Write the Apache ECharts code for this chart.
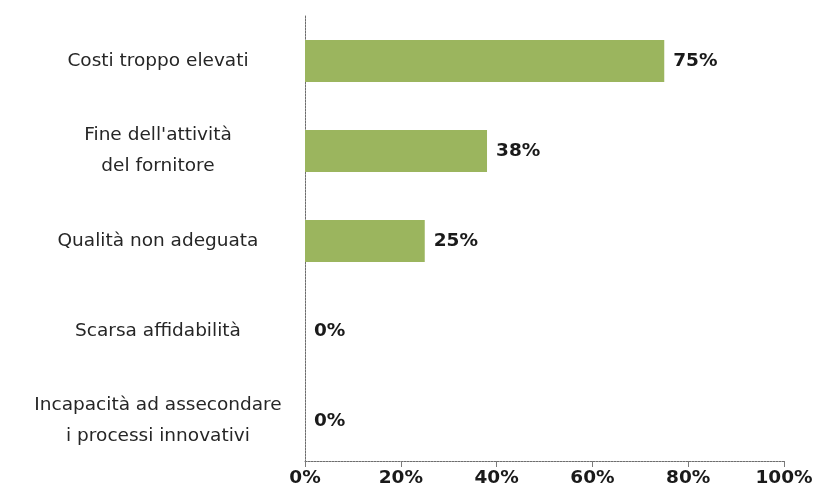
<!DOCTYPE html>
<html>
<head>
<meta charset="utf-8">
<script src="https://cdn.jsdelivr.net/npm/echarts@6/dist/echarts.min.js"></script>
<style>
  html, body { margin: 0; padding: 0; background: #ffffff; }
  #chart { width: 829px; height: 495px; }
</style>
</head>
<body>
<div id="chart"></div>
<script>
// Reasons for changing supplier (share of respondents, %)
const categories = [
  'Costi troppo elevati',
  "Fine dell'attività\ndel fornitore",
  'Qualità non adeguata',
  'Scarsa affidabilità',
  'Incapacità ad assecondare\ni processi innovativi'
];
const values = [75, 38, 25, 0, 0];
const tickValues = [0, 20, 40, 60, 80, 100];

const axisLineStyle = { color: '#6e6e6e', width: 1, type: [2, 1] };

const chart = echarts.init(document.getElementById('chart'));
chart.setOption({
  animation: false,
  backgroundColor: '#ffffff',
  grid: { left: 305, right: 45, top: 16, bottom: 29, containLabel: false },
  xAxis: {
    type: 'value',
    min: tickValues[0],
    max: tickValues[tickValues.length - 1],
    interval: tickValues[1] - tickValues[0],
    offset: -5,
    axisLine: { show: true, lineStyle: axisLineStyle },
    axisTick: { show: true, length: 6, lineStyle: { color: '#7a7a7a', width: 1 } },
    splitLine: { show: false },
    axisLabel: {
      margin: 8,
      formatter: '{value}%',
      fontFamily: 'DejaVu Sans',
      fontWeight: 'bold',
      fontSize: 18.5,
      color: '#1a1a1a'
    }
  },
  yAxis: {
    type: 'category',
    inverse: true,
    data: categories,
    axisLine: { show: true, lineStyle: axisLineStyle },
    axisTick: { show: false },
    splitLine: { show: false },
    axisLabel: {
      margin: 147,
      align: 'center',
      fontFamily: 'DejaVu Sans',
      fontSize: 18.5,
      lineHeight: 31,
      color: '#262626'
    }
  },
  series: [{
    type: 'bar',
    data: values,
    barWidth: 42,
    itemStyle: { color: '#9bb55e' },
    label: {
      show: true,
      position: 'right',
      distance: 9,
      formatter: '{c}%',
      fontFamily: 'DejaVu Sans',
      fontWeight: 'bold',
      fontSize: 18.5,
      color: '#1a1a1a'
    }
  }]
});
</script>
</body>
</html>
